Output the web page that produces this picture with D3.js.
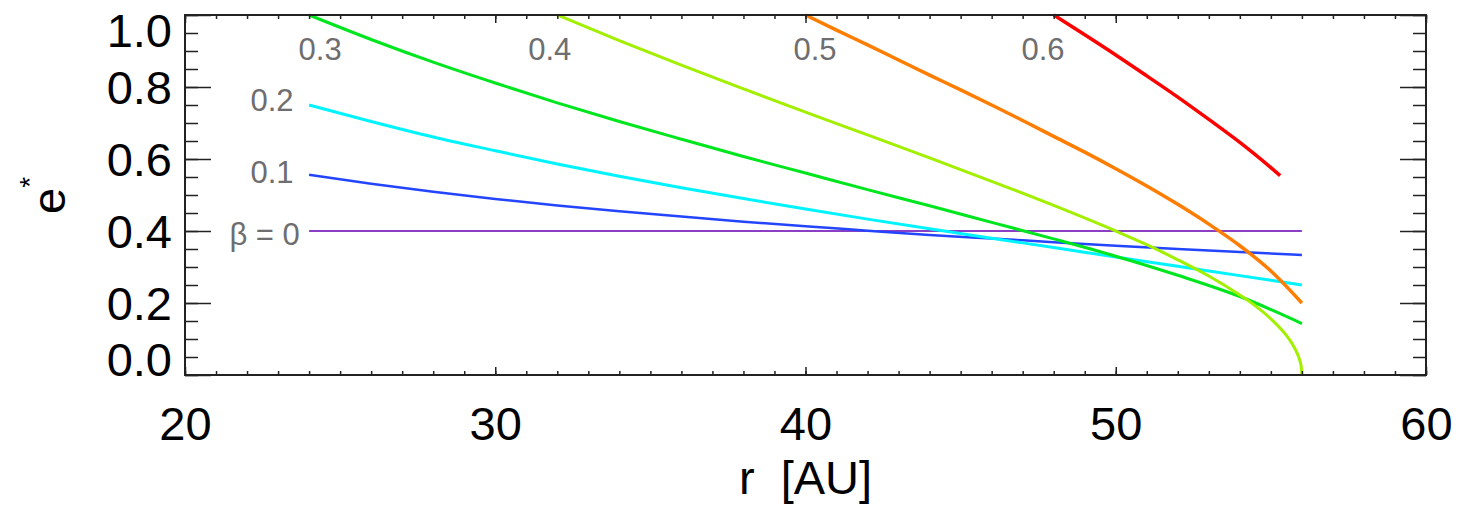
<!DOCTYPE html>
<html lang="en">
<head>
  <meta charset="UTF-8">
  <title>e* vs r</title>
  <script src="https://d3js.org/d3.v7.min.js"></script>
  <style>
    body { margin: 0; background: #fff; }
    svg text { font-family: "Liberation Sans", Arial, sans-serif; }
  </style>
</head>
<body>
  <div id="chart"></div>
  <script>
    // values (r in AU, e* dimensionless)
    const beta0R = [24, 56];
    const beta0E = [0.4, 0.4];

    const beta1R = [24, 26, 28, 30, 32, 34, 36, 38, 40, 42, 44, 46, 48, 50, 52, 54, 56];
    const beta1E = [0.556, 0.531, 0.509, 0.489, 0.471, 0.455, 0.440, 0.426, 0.413, 0.401, 0.389, 0.379, 0.369, 0.359, 0.350, 0.342, 0.333];

    const beta2R = [24, 26, 28, 30, 32, 34, 36, 38, 40, 42, 44, 46, 48, 50, 52, 54, 56];
    const beta2E = [0.750, 0.704, 0.661, 0.623, 0.586, 0.552, 0.520, 0.490, 0.461, 0.433, 0.406, 0.380, 0.354, 0.328, 0.302, 0.276, 0.250];

    const beta3R = [24, 26, 28, 30, 32, 34, 36, 38, 40, 42, 44, 46, 48, 50, 52, 54, 56];
    const beta3E = [1.000, 0.932, 0.869, 0.811, 0.756, 0.704, 0.655, 0.607, 0.561, 0.515, 0.470, 0.424, 0.378, 0.330, 0.277, 0.218, 0.143];

    const beta4R = [32, 34, 36, 38, 40, 42, 44, 46, 48, 50, 51, 52, 53, 54, 54.5, 55, 55.5, 55.6, 55.7, 55.8, 55.9, 55.95, 55.98, 56];
    const beta4E = [1.000, 0.929, 0.861, 0.795, 0.730, 0.667, 0.603, 0.538, 0.471, 0.400, 0.362, 0.320, 0.275, 0.222, 0.192, 0.156, 0.110, 0.098, 0.085, 0.069, 0.049, 0.035, 0.022, 0.0];

    const beta5R = [40, 41, 42, 43, 44, 45, 46, 47, 48, 49, 50, 51, 52, 53, 54, 55, 56];
    const beta5E = [1.000, 0.958, 0.917, 0.875, 0.833, 0.792, 0.750, 0.707, 0.663, 0.619, 0.573, 0.525, 0.474, 0.419, 0.359, 0.289, 0.200];

    const beta6R = [48, 49, 50, 51, 52, 53, 54, 55, 55.3];
    const beta6E = [1.000, 0.945, 0.889, 0.831, 0.772, 0.710, 0.646, 0.576, 0.554];

    const seriesNames = ["0", "0.1", "0.2", "0.3", "0.4", "0.5", "0.6"];
    const seriesColors = ["#8a3fc4", "#2345ff", "#00f4ff", "#00e61e", "#a2f000", "#ff7d00", "#ff0000"];
    const seriesWidths = [2, 2.5, 3, 3, 3, 3.5, 3.5];
    const seriesR = [beta0R, beta1R, beta2R, beta3R, beta4R, beta5R, beta6R];
    const seriesE = [beta0E, beta1E, beta2E, beta3E, beta4E, beta5E, beta6E];

    // curve labels: text, right end (r), baseline (e)
    const labelText = ["\u03b2 = 0", "0.1", "0.2", "0.3", "0.4", "0.5", "0.6"];
    const labelR = [23.7, 23.5, 23.5, 25.05, 32.45, 41.0, 48.35];
    const labelE = [0.362, 0.533, 0.734, 0.876, 0.876, 0.876, 0.876];

    const xMajor = [20, 30, 40, 50, 60];
    const xMinor = d3.range(20, 61, 1);
    const yMajor = [0.0, 0.2, 0.4, 0.6, 0.8, 1.0];
    const yMinor = d3.range(0, 1.0001, 0.05);

    const width = 1460, height = 506;
    const margin = {top: 15, right: 34, bottom: 132, left: 185};

    const svg = d3.select("#chart").append("svg")
        .attr("width", width)
        .attr("height", height);

    const x = d3.scaleLinear().domain([20, 60]).range([margin.left, width - margin.right]);
    const y = d3.scaleLinear().domain([0, 1]).range([height - margin.bottom + 1, margin.top]);

    // curves
    const line = d3.line()
        .x(d => x(d[0]))
        .y(d => y(d[1]))
        .curve(d3.curveMonotoneX);

    seriesNames.forEach((name, i) => {
        const pts = seriesR[i].map((r, j) => [r, seriesE[i][j]]);
        svg.append("path")
            .datum(pts)
            .attr("fill", "none")
            .attr("stroke", seriesColors[i])
            .attr("stroke-width", seriesWidths[i])
            .attr("d", line);
    });

    // curve labels
    labelText.forEach((t, i) => {
        svg.append("text")
            .attr("x", x(labelR[i]))
            .attr("y", y(labelE[i]))
            .attr("text-anchor", "end")
            .attr("font-size", 31)
            .attr("fill", "#6e6e70")
            .text(t);
    });

    // axes
    const axisColor = "#222";
    const y0 = y(0), y1 = y(1), x0 = x(20), x1 = x(60);

    function styleAxis(g) {
        g.select(".domain").remove();
        g.selectAll("line").attr("stroke", axisColor).attr("stroke-width", 1.5);
    }

    svg.append("g").attr("transform", `translate(0,${y0})`)
        .call(d3.axisBottom(x).tickValues(xMinor).tickSize(-4).tickFormat(""))
        .call(styleAxis);
    svg.append("g").attr("transform", `translate(0,${y1})`)
        .call(d3.axisTop(x).tickValues(xMinor).tickSize(-4).tickFormat(""))
        .call(styleAxis);
    svg.append("g").attr("transform", `translate(0,${y1})`)
        .call(d3.axisTop(x).tickValues(xMajor).tickSize(-8).tickFormat(""))
        .call(styleAxis);

    const xAxis = svg.append("g").attr("transform", `translate(0,${y0})`)
        .call(d3.axisBottom(x).tickValues(xMajor).tickSize(-8).tickPadding(32).tickFormat(d3.format("d")))
        .call(styleAxis);
    xAxis.selectAll("text")
        .attr("font-size", 47)
        .attr("fill", "#000")
        .attr("font-family", "Liberation Sans, Arial, sans-serif");

    svg.append("g").attr("transform", `translate(${x0},0)`)
        .call(d3.axisLeft(y).tickValues(yMinor).tickSize(-13).tickFormat(""))
        .call(styleAxis);
    svg.append("g").attr("transform", `translate(${x1},0)`)
        .call(d3.axisRight(y).tickValues(yMinor).tickSize(-13).tickFormat(""))
        .call(styleAxis);
    svg.append("g").attr("transform", `translate(${x1},0)`)
        .call(d3.axisRight(y).tickValues(yMajor).tickSize(-26).tickFormat(""))
        .call(styleAxis);

    const yAxis = svg.append("g").attr("transform", `translate(${x0},0)`)
        .call(d3.axisLeft(y).tickValues(yMajor).tickSize(-26).tickPadding(13).tickFormat(d3.format(".1f")))
        .call(styleAxis);
    yAxis.selectAll("text")
        .attr("font-size", 47)
        .attr("fill", "#000")
        .attr("font-family", "Liberation Sans, Arial, sans-serif")
        .attr("dy", d => d === 0 ? "0em" : d === 1 ? "0.66em" : "0.36em");

    // frame
    svg.append("rect")
        .attr("x", x0).attr("y", y1)
        .attr("width", x1 - x0).attr("height", y0 - y1)
        .attr("fill", "none")
        .attr("stroke", axisColor)
        .attr("stroke-width", 2);

    // axis titles
    svg.append("text")
        .attr("x", (x0 + x1) / 2)
        .attr("y", 494)
        .attr("text-anchor", "middle")
        .attr("font-size", 47)
        .attr("fill", "#000")
        .attr("xml:space", "preserve")
        .style("white-space", "pre")
        .text("r  [AU]");

    const yTitle = svg.append("text")
        .attr("transform", "translate(65,214) rotate(-90)")
        .attr("font-size", 47)
        .attr("fill", "#000");
    yTitle.append("tspan").text("e");
    yTitle.append("tspan").attr("font-size", 28).attr("dy", -26).text("*");
  </script>
</body>
</html>
